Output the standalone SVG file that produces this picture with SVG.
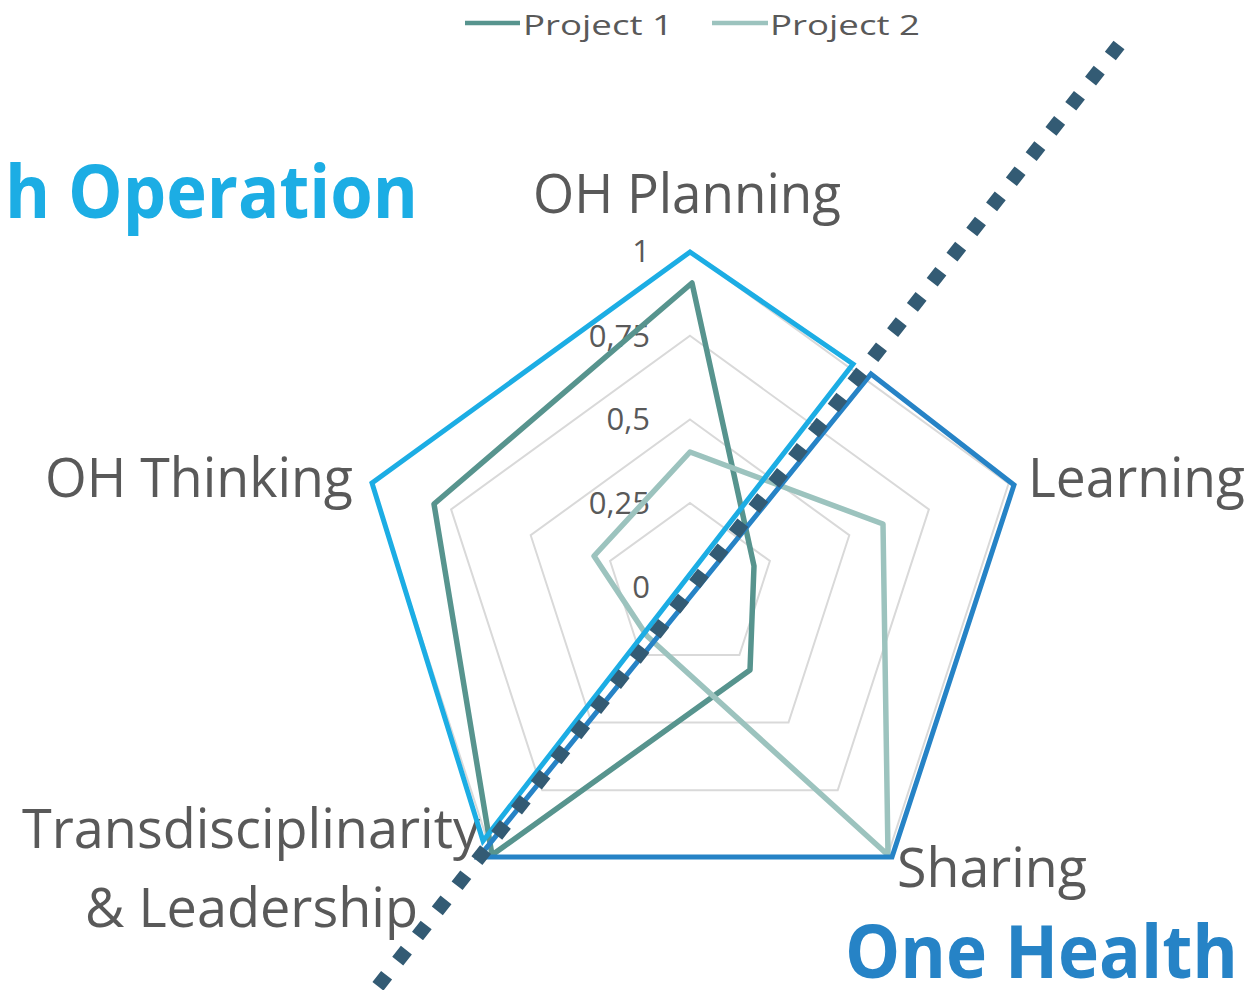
<svg xmlns="http://www.w3.org/2000/svg" width="1253" height="990" viewBox="0 0 1253 990">
<style>
.lbl{font-family:"Open Sans","Liberation Sans",sans-serif;fill:#595959;font-size:54px}
.ax{font-family:"Open Sans","Liberation Sans",sans-serif;fill:#595959;font-size:31px;text-anchor:end}
.leg{font-family:"Open Sans","Liberation Sans",sans-serif;fill:#595959;font-size:28px}
.big{font-family:"Open Sans","Liberation Sans",sans-serif;font-weight:bold;font-size:74px}
.grid{fill:none;stroke:#d9d9d9;stroke-width:2}
.ser{fill:none;stroke-width:5.5;stroke-linejoin:round}
.p1{stroke:#57948e}
.p2{stroke:#9cc3be}
.shape{fill:none;stroke-width:5;stroke-linejoin:miter}
</style>
<rect width="1253" height="990" fill="#ffffff"/>
<g id="grid">
<polygon class="grid" points="690,503 769.9,561 739.4,655 640.6,655 610.1,561"/>
<polygon class="grid" points="690,419.5 849.3,535.2 788.5,722.5 591.5,722.5 530.7,535.2"/>
<polygon class="grid" points="690,335.8 928.9,509.4 837.7,790.3 542.3,790.3 451.1,509.4"/>
<polygon class="grid" points="690,252 1008.6,483.5 886.9,858 493.1,858 371.4,483.5"/>
</g>
<g id="axis-labels">
<text class="ax" x="650" y="262">1</text>
<text class="ax" x="650" y="347">0,75</text>
<text class="ax" x="650" y="430">0,5</text>
<text class="ax" x="650" y="514">0,25</text>
<text class="ax" x="650" y="598">0</text>
</g>
<g id="project1">
<polygon class="ser p1" points="692,283 754,566 750,670 492,855 434,504"/>
</g>
<g id="project2">
<polygon class="ser p2" points="690,452 883,524 888,855 647,636 594,556"/>
</g>
<g id="label-oh-planning"><text class="lbl" x="533" y="213" textLength="308" lengthAdjust="spacingAndGlyphs">OH Planning</text></g>
<g id="label-learning"><text class="lbl" x="1028" y="497" textLength="217" lengthAdjust="spacingAndGlyphs">Learning</text></g>
<g id="label-oh-thinking"><text class="lbl" x="45" y="497" textLength="308" lengthAdjust="spacingAndGlyphs">OH Thinking</text></g>
<g id="label-transdisciplinarity">
<text class="lbl" x="22" y="848" textLength="458" lengthAdjust="spacingAndGlyphs">Transdisciplinarity</text>
<text class="lbl" x="85" y="927" textLength="333" lengthAdjust="spacingAndGlyphs">&amp; Leadership</text>
</g>
<g id="label-sharing"><text class="lbl" x="897" y="887" textLength="190" lengthAdjust="spacingAndGlyphs">Sharing</text></g>
<g id="legend">
<line x1="465" y1="23" x2="520" y2="23" stroke="#57948e" stroke-width="4.5"/>
<text class="leg" x="523" y="35" textLength="150" lengthAdjust="spacingAndGlyphs">Project 1</text>
<line x1="712" y1="23" x2="768" y2="23" stroke="#9cc3be" stroke-width="4.5"/>
<text class="leg" x="770" y="35" textLength="150" lengthAdjust="spacingAndGlyphs">Project 2</text>
</g>
<g id="operation-area">
<polygon class="shape" stroke="#1cade4" points="690,252 853,364 483,841 372,483"/>
<text class="big" fill="#1cade4" x="5" y="218" textLength="413" lengthAdjust="spacingAndGlyphs">h Operation</text>
</g>
<g id="one-health-area">
<polygon class="shape" stroke="#2683c6" points="871,374 1014,485 892,857 479,857"/>
<text class="big" fill="#2683c6" x="845" y="978" textLength="393" lengthAdjust="spacingAndGlyphs">One Health</text>
</g>
<g id="connectors">
<line x1="1119" y1="45" x2="375" y2="990" stroke="#335b74" stroke-width="14" stroke-dasharray="14 18"/>
</g>
</svg>
